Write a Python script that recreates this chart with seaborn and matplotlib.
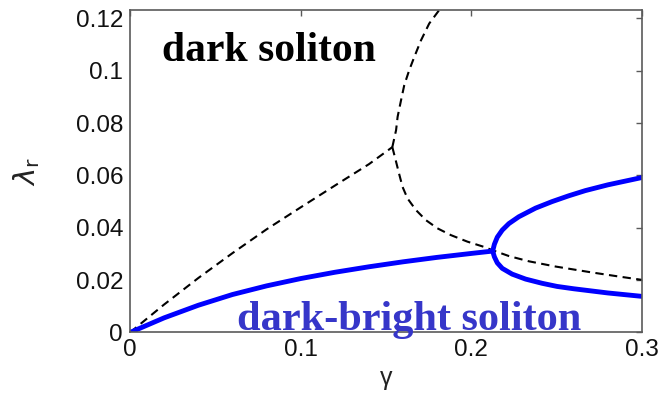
import matplotlib
matplotlib.use("Agg")
import matplotlib.pyplot as plt
import seaborn as sns
import numpy as np
import pandas as pd

# ---- data ----
# blue solid: dark-bright soliton, main branch up to bifurcation
db_x = [0.0, 0.02, 0.04, 0.06, 0.08, 0.10, 0.12, 0.14, 0.16, 0.18, 0.20, 0.2125]
db_y = [0.0, 0.0056, 0.0104, 0.0145, 0.0178, 0.0206, 0.0230, 0.0251, 0.0270, 0.0287, 0.0302, 0.0311]
# upper branch after bifurcation
dbu_x = [0.2125, 0.2135, 0.2152, 0.2181, 0.2220, 0.2278, 0.2376, 0.2473, 0.2570, 0.2668, 0.2800, 0.3000]
dbu_y = [0.0311, 0.0337, 0.0364, 0.0391, 0.0416, 0.0442, 0.0475, 0.0500, 0.0522, 0.0542, 0.0564, 0.0592]
# lower branch after bifurcation
dbl_x = [0.2125, 0.2135, 0.2152, 0.2181, 0.2239, 0.2318, 0.2414, 0.2502, 0.2600, 0.2700, 0.2800, 0.3000]
dbl_y = [0.0311, 0.0289, 0.0266, 0.0245, 0.0223, 0.0204, 0.0188, 0.0176, 0.0167, 0.0159, 0.0151, 0.0138]

# black dashed: dark soliton, rising branch from origin to cusp
ds_x = [0.0, 0.02, 0.04, 0.06, 0.08, 0.10, 0.12, 0.14, 0.1537]
ds_y = [0.0, 0.0107, 0.0208, 0.0303, 0.0394, 0.0478, 0.0561, 0.0643, 0.0708]
# branch going up from cusp
dsu_x = [0.1537, 0.1559, 0.1568, 0.1588, 0.1607, 0.1636, 0.1666, 0.1705, 0.1753, 0.1811, 0.1830]
dsu_y = [0.0708, 0.0773, 0.0824, 0.0887, 0.0945, 0.1002, 0.1053, 0.1116, 0.1180, 0.1231, 0.1245]
# branch going down from cusp
dsl_x = [0.1537, 0.1556, 0.1576, 0.1597, 0.1626, 0.1675, 0.1734, 0.1801, 0.1880, 0.1977, 0.2074,
         0.2125, 0.2220, 0.2337, 0.2493, 0.2700, 0.2862, 0.3000]
dsl_y = [0.0708, 0.0660, 0.0608, 0.0556, 0.0512, 0.0468, 0.0429, 0.0398, 0.0372, 0.0347, 0.0327,
         0.0314, 0.0292, 0.0272, 0.0252, 0.0230, 0.0214, 0.0201]

x_ticks = [0, 0.1, 0.2, 0.3]
x_ticklabels = ["0", "0.1", "0.2", "0.3"]
y_ticks = [0, 0.02, 0.04, 0.06, 0.08, 0.1, 0.12]
y_ticklabels = ["0", "0.02", "0.04", "0.06", "0.08", "0.1", "0.12"]

sns.set_style("white")
plt.rcParams["font.family"] = ["Liberation Sans", "DejaVu Sans"]
plt.rcParams["mathtext.fontset"] = "dejavusans"

fig = plt.figure(figsize=(6.62, 3.94), dpi=100)
ax = fig.add_axes([0.1964, 0.1561, 0.7734, 0.8173])

blue = "#0000ff"
dash_kw = dict(color="black", linewidth=1.5, linestyle=(0, (4.0, 2.6)),
               sort=False, estimator=None, ax=ax, legend=False)
blue_kw = dict(color=blue, linewidth=3.5, sort=False, estimator=None, ax=ax,
               legend=False, solid_capstyle="round", solid_joinstyle="round")

for xs, ys in [(ds_x, ds_y), (dsu_x, dsu_y), (dsl_x, dsl_y)]:
    sns.lineplot(x=xs, y=ys, **dash_kw)
for xs, ys in [(db_x, db_y), (dbu_x, dbu_y), (dbl_x, dbl_y)]:
    sns.lineplot(x=xs, y=ys, **blue_kw)

ax.set_xlim(0, 0.3)
ax.set_ylim(0, 0.123)
ax.set_xticks(x_ticks)
ax.set_xticklabels(x_ticklabels)
ax.set_yticks(y_ticks)
ax.set_yticklabels(y_ticklabels)

for s in ax.spines.values():
    s.set_visible(True)
    s.set_color("#5a5a5a")
    s.set_linewidth(1.2)
ax.tick_params(direction="in", length=4, width=1.0, colors="#5a5a5a",
               top=True, right=True, labelsize=17.5, labelcolor="#111111", pad=5)

ax.set_xlabel("γ", fontsize=18, color="#222222", labelpad=3)
ax.set_ylabel(r"$\lambda_\mathrm{r}$", fontsize=21, color="#222222", labelpad=24)

ax.text(0.0187, 0.1037, "dark soliton", family=["Liberation Serif", "DejaVu Serif"],
        fontweight="bold", fontsize=30, color="black", va="baseline", ha="left")
ax.text(0.0625, 0.00095, "dark-bright soliton", family=["Liberation Serif", "DejaVu Serif"],
        fontweight="bold", fontsize=30.5, color="#3636c9", va="baseline", ha="left",
        clip_on=False, zorder=5)

fig.savefig("out.png", dpi=100)
